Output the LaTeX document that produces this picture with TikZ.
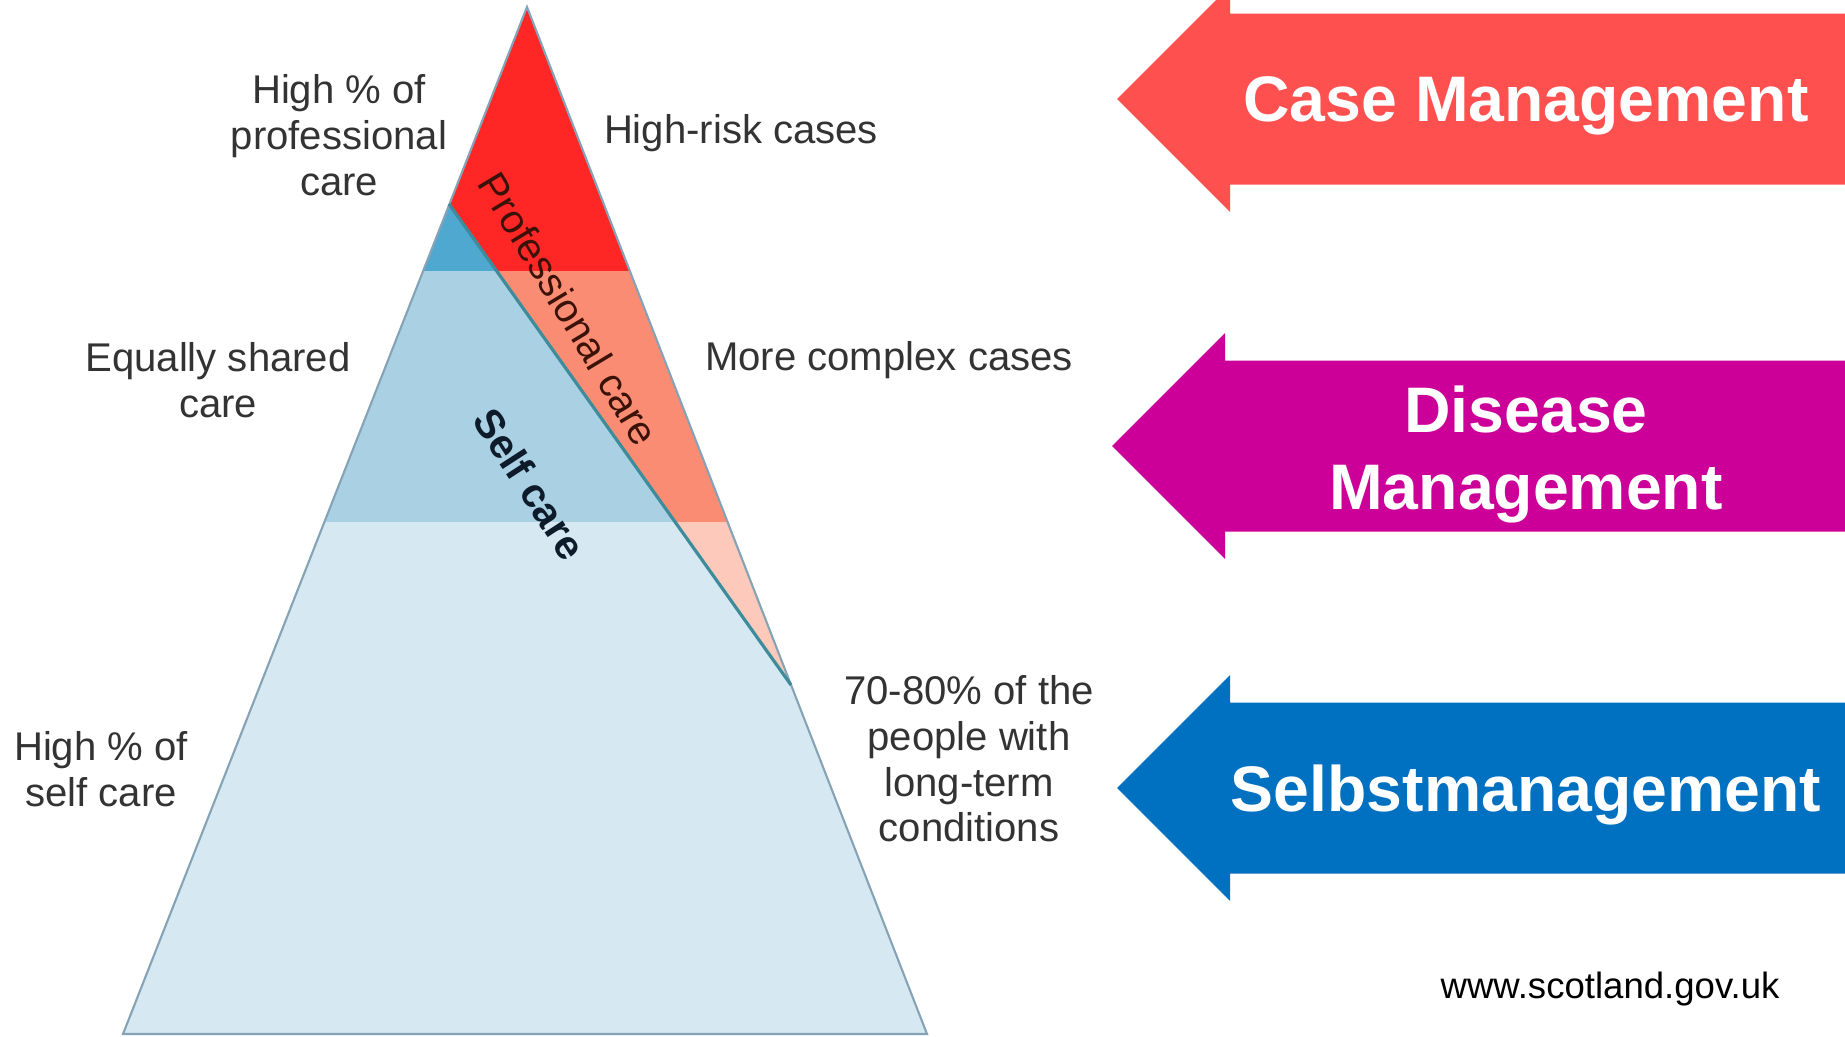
\documentclass[tikz,border=0pt]{standalone}
\usepackage{fontspec}
\setmainfont{Liberation Sans}
\usetikzlibrary{positioning}
\definecolor{caseRed}{HTML}{FF5050}
\definecolor{disMag}{HTML}{CC0099}
\definecolor{selfBlue}{HTML}{0070C0}
\definecolor{proA}{HTML}{FF2626}
\definecolor{proB}{HTML}{FA8C73}
\definecolor{proC}{HTML}{FCC9BA}
\definecolor{selfA}{HTML}{4FA8CF}
\definecolor{selfB}{HTML}{AAD0E3}
\definecolor{selfC}{HTML}{D6E9F2}
\definecolor{edgeGray}{HTML}{86A3B5}
\definecolor{splitTeal}{HTML}{3D8C9C}

\begin{document}
\begin{tikzpicture}[x=0.01cm,y=-0.01cm,
lbl/.style={align=center,inner sep=0pt,text=black!80,font=\fontsize{11.4}{13}\selectfont},
mgmt/.style={align=center,inner sep=0pt,text=white,font=\fontsize{18.3}{21.9}\selectfont\bfseries},
edge/.style={draw=edgeGray,line width=0.6pt},
split/.style={draw=splitTeal,line width=0.9pt}]
\useasboundingbox (0,0) rectangle (1845,1036);
\clip (0,0) rectangle (1845,1036);
% pyramid corners and the split between the two kinds of care
\coordinate (apex) at (527,7);
\coordinate (bl) at (123,1034);
\coordinate (br) at (927,1034);
\coordinate (pl) at (449,204);
\coordinate (pm) at (791,685);
\begin{scope}
\clip (apex)--(pl)--(pm)--cycle;
\foreach \ya/\yb/\c in {0/271/proA,271/522/proB,522/1040/proC}
  \fill[\c] (0,\ya) rectangle (1000,\yb);
\end{scope}
\begin{scope}
\clip (pl)--(bl)--(br)--(pm)--cycle;
\foreach \ya/\yb/\c in {0/271/selfA,271/522/selfB,522/1040/selfC}
  \fill[\c] (0,\ya) rectangle (1000,\yb);
\end{scope}
\draw[edge] (apex)--(bl)--(br)--cycle;
\draw[split] (pl)--(pm);
\node[rotate=-59,inner sep=0pt,text={rgb,255:red,58;green,18;blue,8},font=\fontsize{11.4}{13}\selectfont] (pro) at (569,309) {Professional care};
\node[rotate=-57,inner sep=0pt,text={rgb,255:red,13;green,27;blue,42},font=\fontsize{11.6}{13}\selectfont\bfseries] (self) at (530,484) {Self care};
% labels round the pyramid
\node[lbl] (hiPro) at (339,135) {High \% of\\professional\\care};
\node[lbl] (hiRisk) at (741,133) {High-risk cases};
\node[lbl] (shared) at (218,380) {Equally shared\\care};
\node[lbl] (complex) at (889,360) {More complex cases};
\node[lbl] (hiSelf) at (101,769) {High \% of\\self care};
\node[lbl] (ltc) at (969,759) {70-80\% of the\\people with\\long-term\\conditions};
% management arrows
\foreach \y/\tip/\ty/\c/\t [count=\i] in {99/1117/106/caseRed/{Case Management},446/1112/454/disMag/{Disease\\Management},788/1117/795/selfBlue/Selbstmanagement}{
  \fill[\c] (1845,\y-85.5) -- (\tip+113,\y-85.5) -- (\tip+113,\y-113) -- (\tip,\y) -- (\tip+113,\y+113) -- (\tip+113,\y+85.5) -- (1845,\y+85.5) -- cycle;
  \node[mgmt] (mgmt\i) at (1526,\ty) {\t};
}
\node[inner sep=0pt,font=\fontsize{10.4}{12}\selectfont] (url) at (1610,989) {www.scotland.gov.uk};
\end{tikzpicture}
\end{document}
